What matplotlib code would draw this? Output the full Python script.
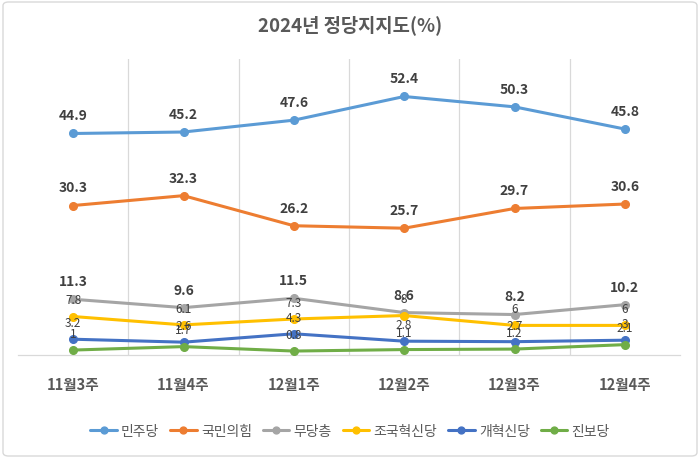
import matplotlib
matplotlib.use('Agg')
import matplotlib.pyplot as plt
from matplotlib.patches import FancyBboxPatch
import numpy as np

plt.rcParams['font.family'] = ['Noto Sans CJK KR', 'DejaVu Sans']

# ── Data ───────────────────────────────────────────────────────────────────────
WEEKS = ['11월3주', '11월4주', '12월1주', '12월2주', '12월3주', '12월4주']
PARTIES = ['민주당', '국민의힘', '무당층', '조국혁신당', '개혁신당', '진보당']
DEMOCRATIC = [44.9, 45.2, 47.6, 52.4, 50.3, 45.8]
PPP = [30.3, 32.3, 26.2, 25.7, 29.7, 30.6]
INDEPENDENT = [11.3, 9.6, 11.5, 8.6, 8.2, 10.2]
REBUILD = [7.8, 6.1, 7.3, 8, 6, 6]
REFORM = [3.2, 2.6, 4.3, 2.8, 2.7, 3]
PROGRESSIVE = [1, 1.7, 0.8, 1.1, 1.2, 2.1]

SERIES = [DEMOCRATIC, PPP, INDEPENDENT, REBUILD, REFORM, PROGRESSIVE]
COLORS = ['#5B9BD5', '#ED7D31', '#A5A5A5', '#FFC000', '#4472C4', '#70AD47']
BOLD_LABEL = [True, True, True, False, False, False]

fig = plt.figure(figsize=(7, 4.6), dpi=100)
ax = fig.add_axes([18 / 700, 104 / 460, 662 / 700, 296 / 460])

x = np.arange(len(WEEKS))
for vals, name, col, bold in zip(SERIES, PARTIES, COLORS, BOLD_LABEL):
    ax.plot(x, vals, color=col, lw=2.2, marker='o', ms=5.5, label=name,
            solid_capstyle='round', zorder=3)
    for xi, v in zip(x, vals):
        txt = f'{v:g}'
        if bold:
            ax.annotate(txt, (xi, v), xytext=(0, 13), textcoords='offset points',
                        ha='center', va='center', fontsize=10, fontweight='bold',
                        color='#404040', zorder=5)
        else:
            ax.annotate(txt, (xi, v), xytext=(0, 12), textcoords='offset points',
                        ha='center', va='center', fontsize=8.5,
                        color='#404040', zorder=5)

ax.set_xlim(-0.5, len(WEEKS) - 0.5)
ax.set_ylim(0, 60)
for b in np.arange(0.5, len(WEEKS) - 0.5, 1):
    ax.axvline(b, color='#D9D9D9', lw=0.9, zorder=1)

for s in ['top', 'left', 'right']:
    ax.spines[s].set_visible(False)
ax.spines['bottom'].set_color('#D9D9D9')
ax.spines['bottom'].set_linewidth(0.9)
ax.set_yticks([])
ax.set_xticks(x)
ax.set_xticklabels(WEEKS, fontsize=10.5, fontweight='bold', color='#595959')
ax.tick_params(axis='x', length=0, pad=15)

fig.text(0.5, 1 - 25 / 460, '2024년 정당지지도(%)', ha='center', va='center',
         fontsize=13.5, fontweight='bold', color='#595959')

leg = fig.legend(loc='center', bbox_to_anchor=(0.5, 28 / 460), ncol=6,
                 frameon=False, fontsize=10, handlelength=1.9,
                 handletextpad=0.3, columnspacing=0.8, markerscale=0.9)
for t in leg.get_texts():
    t.set_color('#595959')

border = FancyBboxPatch((3 / 700, 3 / 460), 694 / 700, 454 / 460,
                        boxstyle='round,pad=0,rounding_size=0.008',
                        transform=fig.transFigure, fill=False,
                        edgecolor='#D9D9D9', lw=1.0)
fig.patches.append(border)

fig.savefig('out.png', dpi=100)
